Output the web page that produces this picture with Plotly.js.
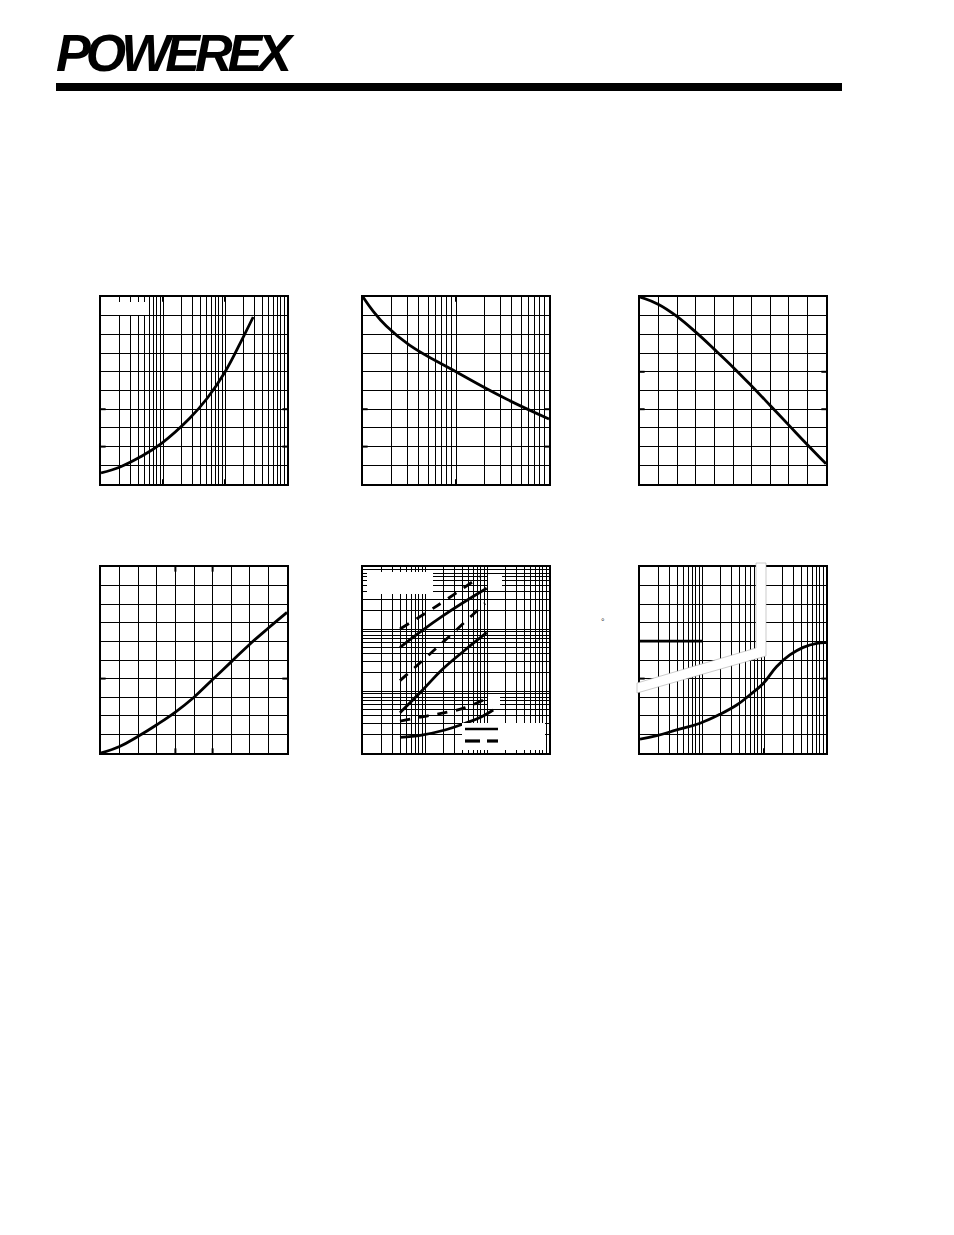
<!DOCTYPE html>
<html><head><meta charset="utf-8">
<script src="https://cdn.plot.ly/plotly-3.0.1.min.js"></script>
<style>html,body{margin:0;padding:0;background:#fff;}#chart{width:954px;height:1235px;}</style>
</head><body><div id="chart"></div>
<script>
// ---- data ----
// Chart 1 (log x, linear y)
const c1x = [1, 2.03, 4.26, 9.6, 27.2, 52, 100, 197, 285];
const c1y = [0.59, 0.91, 1.44, 2.19, 3.53, 4.6, 5.99, 7.86, 8.93];
// Chart 2 (log x, linear y)
const c2x = [1, 1.26, 1.78, 3.16, 10, 31.6, 100];
const c2y = [10, 9.3, 8.45, 7.43, 6.0, 4.65, 3.48];
// Chart 3 (linear)
const c3x = [0, 1, 2, 3, 4, 5, 6, 7, 8, 9, 10];
const c3y = [10, 9.6, 8.95, 8.12, 7.2, 6.25, 5.24, 4.2, 3.15, 2.1, 1.08];
// Chart 4 (linear)
const c4x = [0, 1, 2, 3, 4, 5, 6, 7, 8, 9, 10];
const c4y = [0, 0.35, 0.9, 1.52, 2.2, 3.0, 3.95, 4.9, 5.85, 6.72, 7.56];
// Chart 5 (log-log), six curves
const c5aX = [3.95, 16.4, 77];          const c5aY = [100, 244, 698];      // dashed
const c5bX = [3.95, 18.6, 98.9];        const c5bY = [50.7, 158, 453];     // solid
const c5cX = [3.95, 18.6, 93];          const c5cY = [14.7, 58.8, 260];    // dashed
const c5dX = [3.95, 8.84, 18.6, 44.2, 98.9]; const c5dY = [4.47, 10, 21.8, 45.8, 87.1]; // solid
const c5eX = [3.95, 10.6, 21, 44.2, 93];     const c5eY = [3.28, 3.95, 4.47, 5.38, 7.35]; // dashed
const c5fX = [3.95, 8.84, 21, 44.2, 82, 126]; const c5fY = [1.79, 1.95, 2.35, 3.01, 3.85, 4.94]; // solid
// Chart 6 (log x, linear y)
const c6x = [1, 1.86, 3.9, 9.3, 19.5, 36.3, 59, 97.9, 159, 261, 429, 707, 1000];
const c6y = [0.75, 0.93, 1.24, 1.6, 2.08, 2.58, 3.12, 3.75, 4.64, 5.27, 5.68, 5.9, 5.93];
const c6hX = [1, 10];
const c6hY = [6.02, 6.02];

// ---- layout helpers ----
const W = 954, H = 1235;
const fx = v => v / W;
const fy = v => 1 - v / H;

function axis(type, range, d0, d1, anchor) {
  return {
    type: type, range: range, domain: [d0, d1], anchor: anchor,
    dtick: type === 'log' ? 'D1' : 1,
    showgrid: true, gridcolor: '#000', gridwidth: 1,
    showticklabels: false, ticks: '',
    showline: true, linecolor: '#000', linewidth: 2, mirror: true,
    zeroline: false, fixedrange: true
  };
}

const boxes = [
  {x: [101, 287], y: [297, 484]},
  {x: [363, 549], y: [297, 484]},
  {x: [640, 826], y: [297, 484]},
  {x: [101, 287], y: [567, 753]},
  {x: [363, 549], y: [567, 753]},
  {x: [640, 826], y: [567, 753]}
];
const types = [['log', 'linear'], ['log', 'linear'], ['linear', 'linear'], ['linear', 'linear'], ['log', 'log'], ['log', 'linear']];
const xr = [[0, 3], [0, 2], [0, 10], [0, 10], [0, 3], [0, 3]];
const yr = [[0, 10], [0, 10], [0, 10], [0, 10], [0, 3], [0, 10]];

const layout = {
  width: W, height: H, margin: {l: 0, r: 0, t: 0, b: 0},
  paper_bgcolor: '#fff', plot_bgcolor: '#fff', showlegend: false,
  shapes: [], annotations: []
};
for (let i = 0; i < 6; i++) {
  const n = i + 1;
  const b = boxes[i];
  layout['xaxis' + n] = axis(types[i][0], xr[i], fx(b.x[0]), fx(b.x[1]), 'y' + n);
  layout['yaxis' + n] = axis(types[i][1], yr[i], fy(b.y[1]), fy(b.y[0]), 'x' + n);
}

const traces = [];
function curve(n, x, y, dash) {
  traces.push({x: x, y: y, xaxis: 'x' + n, yaxis: 'y' + n, type: 'scatter', mode: 'lines',
    line: {color: '#000', width: 2.8, shape: 'spline', smoothing: 1.2, dash: dash || 'solid'}, hoverinfo: 'skip'});
}
curve(1, c1x, c1y);
curve(2, c2x, c2y);
curve(3, c3x, c3y);
curve(4, c4x, c4y);
const dsh = '10px,9px';
curve(5, c5aX, c5aY, dsh);
curve(5, c5bX, c5bY);
curve(5, c5cX, c5cY, dsh);
curve(5, c5dX, c5dY);
curve(5, c5eX, c5eY, dsh);
curve(5, c5fX, c5fY);
curve(6, c6x, c6y);
curve(6, c6hX, c6hY);

// heavier tick marks at labelled positions
function yTicks(n, vals) {
  vals.forEach(v => {
    layout.shapes.push({type: 'line', xref: 'x' + n + ' domain', yref: 'y' + n, x0: 0, x1: 0.025, y0: v, y1: v, line: {color: '#000', width: 2}});
    layout.shapes.push({type: 'line', xref: 'x' + n + ' domain', yref: 'y' + n, x0: 0.975, x1: 1, y0: v, y1: v, line: {color: '#000', width: 2}});
  });
}
function xTicks(n, vals) {
  vals.forEach(v => {
    layout.shapes.push({type: 'line', xref: 'x' + n, yref: 'y' + n + ' domain', x0: v, x1: v, y0: 0, y1: 0.025, line: {color: '#000', width: 2}});
    layout.shapes.push({type: 'line', xref: 'x' + n, yref: 'y' + n + ' domain', x0: v, x1: v, y0: 0.975, y1: 1, line: {color: '#000', width: 2}});
  });
}
yTicks(1, [2, 4]); xTicks(1, [10, 100]);
yTicks(2, [2, 4]); xTicks(2, [10]);
yTicks(3, [4, 6]);
yTicks(4, [4]); xTicks(4, [4, 6]);
yTicks(6, [4]); xTicks(6, [100]);

// white label boxes (text removed in the original)
function whiteBox(l, t, r, b) {
  layout.shapes.push({type: 'rect', xref: 'paper', yref: 'paper', x0: fx(l), x1: fx(r), y0: fy(b), y1: fy(t),
    fillcolor: '#fff', line: {width: 0}, layer: 'above'});
}
whiteBox(102, 302, 148, 315);
whiteBox(367, 572, 433, 594);
whiteBox(488, 575, 502, 587);
whiteBox(488, 697, 500, 708);
whiteBox(462, 723, 545, 750);

function seg(x0, y0, x1, y1, w, c) {
  layout.shapes.push({type: 'line', xref: 'paper', yref: 'paper', x0: fx(x0), x1: fx(x1), y0: fy(y0), y1: fy(y1),
    line: {color: c || '#000', width: w}, layer: 'above'});
}
// legend samples of chart 5
seg(465, 729, 498, 729, 2.6);
seg(465, 741, 480, 741, 3.2);
seg(487, 741, 498, 741, 3.2);

// axis break of chart 6
const brk = [[637, 683], [756, 648], [756, 563], [766, 563], [766, 656], [637, 693]];
layout.shapes.push({type: 'path', xref: 'paper', yref: 'paper',
  path: 'M' + brk.map(p => fx(p[0]) + ',' + fy(p[1])).join(' L') + ' Z',
  fillcolor: '#fff', line: {color: '#aaa', width: 0.6}, layer: 'above'});
layout.annotations.push({xref: 'paper', yref: 'paper', x: fx(603), y: fy(622), text: '°', showarrow: false,
  font: {family: 'Liberation Sans', size: 9, color: '#333'}, xanchor: 'center', yanchor: 'middle'});

// header: logo text and black rule
layout.annotations.push({xref: 'paper', yref: 'paper', x: fx(54), y: fy(53), text: '<span style="letter-spacing:-5px">POWEREX</span>', showarrow: false,
  xanchor: 'left', yanchor: 'middle',
  font: {family: 'Liberation Sans', size: 52, color: '#000', weight: 900, style: 'italic'}});
seg(59, 71, 74, 35, 1.6, '#fff');
seg(65, 71, 80, 35, 1.6, '#fff');
layout.shapes.push({type: 'rect', xref: 'paper', yref: 'paper', x0: fx(56), x1: fx(842), y0: fy(91), y1: fy(83),
  fillcolor: '#000', line: {width: 0}});

Plotly.newPlot('chart', traces, layout, {staticPlot: true, displayModeBar: false});
</script></body></html>
